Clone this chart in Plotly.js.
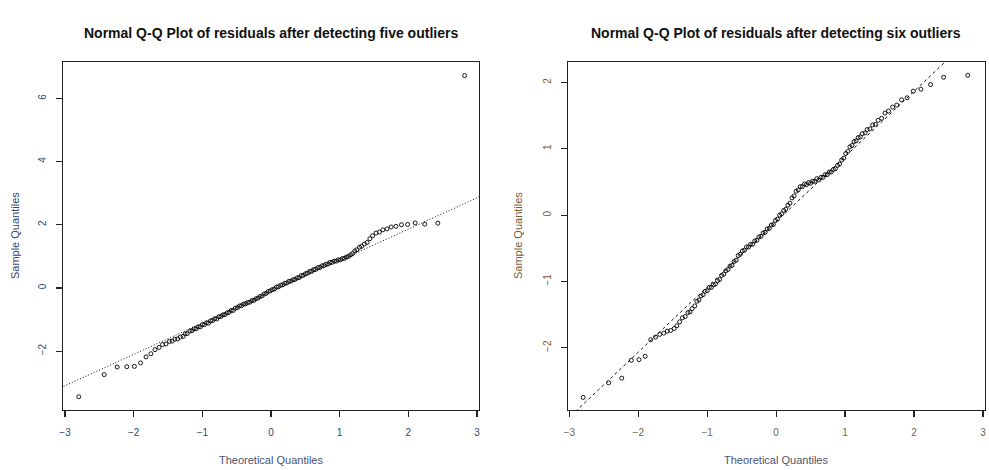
<!DOCTYPE html>
<html>
<head>
<meta charset="utf-8">
<script src="https://cdn.plot.ly/plotly-3.0.1.min.js"></script>
<style>html,body{margin:0;padding:0;background:#fff;}#chart{width:989px;height:470px;}</style>
</head>
<body>
<div id="chart"></div>
<script>
// ---- Data ----
var leftTitle = "Normal Q-Q Plot of residuals after detecting five outliers";
var rightTitle = "Normal Q-Q Plot of residuals after detecting six outliers";
var xAxisTitle = "Theoretical Quantiles";
var yAxisTitle = "Sample Quantiles";

var leftTheoretical = [-2.80,-2.43,-2.24,-2.10,-1.99,-1.90,-1.82,-1.75,-1.69,-1.63,-1.58,-1.53,-1.48,-1.44,-1.40,-1.36,-1.32,-1.28,-1.25,-1.22,-1.18,-1.15,-1.12,-1.09,-1.06,-1.03,-1.00,-0.97,-0.94,-0.91,-0.88,-0.85,-0.82,-0.79,-0.76,-0.73,-0.70,-0.67,-0.64,-0.61,-0.58,-0.55,-0.52,-0.49,-0.46,-0.43,-0.40,-0.37,-0.34,-0.31,-0.28,-0.25,-0.22,-0.19,-0.16,-0.13,-0.10,-0.07,-0.04,-0.01,0.02,0.05,0.08,0.11,0.14,0.17,0.20,0.23,0.26,0.29,0.32,0.35,0.38,0.41,0.44,0.47,0.50,0.53,0.56,0.59,0.62,0.65,0.68,0.71,0.74,0.77,0.80,0.83,0.86,0.89,0.92,0.95,0.98,1.01,1.04,1.07,1.10,1.13,1.16,1.19,1.22,1.25,1.29,1.32,1.36,1.40,1.44,1.48,1.53,1.58,1.63,1.69,1.75,1.82,1.90,1.99,2.10,2.24,2.43,2.82];
var leftSample = [-3.44,-2.74,-2.50,-2.49,-2.48,-2.37,-2.18,-2.08,-1.95,-1.88,-1.79,-1.77,-1.69,-1.68,-1.62,-1.61,-1.55,-1.53,-1.45,-1.44,-1.36,-1.35,-1.29,-1.29,-1.23,-1.23,-1.16,-1.16,-1.10,-1.11,-1.04,-1.03,-0.97,-0.98,-0.91,-0.90,-0.85,-0.84,-0.79,-0.77,-0.71,-0.71,-0.64,-0.62,-0.57,-0.56,-0.51,-0.50,-0.46,-0.45,-0.40,-0.39,-0.34,-0.32,-0.27,-0.25,-0.19,-0.17,-0.11,-0.09,-0.05,-0.03,0.03,0.04,0.09,0.10,0.15,0.16,0.21,0.22,0.26,0.27,0.32,0.33,0.39,0.40,0.45,0.47,0.52,0.53,0.58,0.59,0.64,0.65,0.70,0.71,0.75,0.76,0.81,0.81,0.85,0.85,0.89,0.89,0.93,0.94,0.98,1.00,1.05,1.09,1.17,1.21,1.29,1.32,1.39,1.44,1.56,1.65,1.74,1.77,1.84,1.87,1.93,1.95,2.00,2.01,2.06,2.02,2.05,6.72];
var leftLineX = [-3.10, 3.10];
var leftLineY = [-3.19, 2.95];

var rightTheoretical = [-2.80,-2.43,-2.24,-2.10,-1.99,-1.90,-1.82,-1.75,-1.69,-1.63,-1.58,-1.53,-1.48,-1.44,-1.40,-1.36,-1.32,-1.28,-1.25,-1.22,-1.18,-1.15,-1.12,-1.09,-1.06,-1.03,-1.00,-0.97,-0.94,-0.91,-0.88,-0.85,-0.82,-0.79,-0.76,-0.73,-0.70,-0.67,-0.64,-0.61,-0.58,-0.55,-0.52,-0.49,-0.46,-0.43,-0.40,-0.37,-0.34,-0.31,-0.28,-0.25,-0.22,-0.19,-0.16,-0.13,-0.10,-0.07,-0.04,-0.01,0.02,0.05,0.08,0.11,0.14,0.17,0.20,0.23,0.26,0.29,0.32,0.35,0.38,0.41,0.44,0.47,0.50,0.53,0.56,0.59,0.62,0.65,0.68,0.71,0.74,0.77,0.80,0.83,0.86,0.89,0.92,0.95,0.98,1.01,1.04,1.07,1.10,1.13,1.16,1.19,1.22,1.25,1.29,1.32,1.36,1.40,1.44,1.48,1.53,1.58,1.63,1.69,1.75,1.82,1.90,1.99,2.10,2.24,2.43,2.78];
var rightSample = [-2.75,-2.53,-2.46,-2.19,-2.18,-2.13,-1.88,-1.84,-1.80,-1.78,-1.75,-1.74,-1.71,-1.67,-1.61,-1.55,-1.53,-1.47,-1.46,-1.41,-1.37,-1.30,-1.28,-1.22,-1.20,-1.15,-1.14,-1.09,-1.09,-1.05,-1.04,-0.99,-0.97,-0.91,-0.89,-0.84,-0.82,-0.77,-0.76,-0.70,-0.68,-0.61,-0.59,-0.54,-0.53,-0.48,-0.48,-0.44,-0.44,-0.39,-0.38,-0.33,-0.32,-0.27,-0.26,-0.21,-0.20,-0.15,-0.14,-0.08,-0.06,0.00,0.02,0.07,0.09,0.15,0.18,0.26,0.29,0.36,0.38,0.43,0.43,0.47,0.46,0.49,0.48,0.51,0.51,0.55,0.53,0.57,0.57,0.61,0.61,0.65,0.65,0.69,0.70,0.75,0.77,0.83,0.86,0.93,0.96,1.03,1.05,1.11,1.12,1.17,1.18,1.23,1.24,1.29,1.30,1.36,1.37,1.43,1.46,1.54,1.57,1.63,1.66,1.74,1.77,1.87,1.90,1.97,2.08,2.11];
var rightLineX = [-3.10, 3.10];
var rightLineY = [-3.15, 2.95];

var xTicks = [-3, -2, -1, 0, 1, 2, 3];
var leftYTicks = [-2, 0, 2, 4, 6];
var rightYTicks = [-2, -1, 0, 1, 2];

// ---- Styling ----
var FONT = "Liberation Sans, Arial, Helvetica, sans-serif";
var leftTextColor = "#34466f";
var rightTextColor = "#7a5a36";

var markerStyle = {symbol: "circle-open", size: 4, color: "#000", line: {width: 0.9, color: "#000"}};

var traces = [
  {x: leftLineX, y: leftLineY, xaxis: "x", yaxis: "y", mode: "lines",
   line: {color: "#111", width: 1, dash: "1px,2px"}, hoverinfo: "skip"},
  {x: leftTheoretical, y: leftSample, xaxis: "x", yaxis: "y", mode: "markers", marker: markerStyle},
  {x: rightLineX, y: rightLineY, xaxis: "x2", yaxis: "y2", mode: "lines",
   line: {color: "#111", width: 1, dash: "3px,3px"}, hoverinfo: "skip"},
  {x: rightTheoretical, y: rightSample, xaxis: "x2", yaxis: "y2", mode: "markers", marker: markerStyle}
];

function axisBase(extra) {
  var a = {
    showgrid: false, zeroline: false, showline: true, mirror: true,
    linecolor: "#222", linewidth: 1.3,
    ticks: "outside", ticklen: 6, tickwidth: 1.2, tickcolor: "#222",
    tickfont: {family: FONT, size: 10}
  };
  for (var k in extra) a[k] = extra[k];
  return a;
}

var leftDomain = [0, 0.4512];
var rightDomain = [0.5477, 1];

var layout = {
  width: 989, height: 470,
  margin: {l: 63, r: 4, t: 62, b: 60},
  paper_bgcolor: "#fff", plot_bgcolor: "#fff",
  showlegend: false,
  font: {family: FONT, color: "#222"},
  xaxis: axisBase({domain: leftDomain, range: [-3.03, 3.03], tickvals: xTicks, anchor: "y",
    ticklabelstandoff: 7, tickfont: {family: FONT, size: 10, color: leftTextColor}}),
  yaxis: axisBase({domain: [0, 1], range: [-3.86, 7.15], tickvals: leftYTicks, anchor: "x",
    tickangle: -90, ticklabelstandoff: 6, tickfont: {family: FONT, size: 10, color: leftTextColor}}),
  xaxis2: axisBase({domain: rightDomain, range: [-3.02, 3.03], tickvals: xTicks, anchor: "y2",
    ticklabelstandoff: 7, tickfont: {family: FONT, size: 10, color: "#6b6650"}}),
  yaxis2: axisBase({domain: [0, 1], range: [-2.94, 2.31], tickvals: rightYTicks, anchor: "x2",
    tickangle: -90, ticklabelstandoff: 6, tickfont: {family: FONT, size: 10, color: rightTextColor}}),
  annotations: [
    {text: "<b>" + leftTitle + "</b>", xref: "paper", yref: "paper", x: (leftDomain[0] + leftDomain[1]) / 2, y: 1.083,
     xanchor: "center", yanchor: "middle", showarrow: false, font: {family: FONT, size: 14, color: "#111"}},
    {text: "<b>" + rightTitle + "</b>", xref: "paper", yref: "paper", x: (rightDomain[0] + rightDomain[1]) / 2, y: 1.083,
     xanchor: "center", yanchor: "middle", showarrow: false, font: {family: FONT, size: 14, color: "#111"}},
    {text: xAxisTitle, xref: "paper", yref: "paper", x: (leftDomain[0] + leftDomain[1]) / 2, y: -0.144,
     xanchor: "center", yanchor: "middle", showarrow: false, font: {family: FONT, size: 11, color: "#4a5470"}},
    {text: xAxisTitle, xref: "paper", yref: "paper", x: (rightDomain[0] + rightDomain[1]) / 2, y: -0.144,
     xanchor: "center", yanchor: "middle", showarrow: false, font: {family: FONT, size: 11, color: "#4a5470"}},
    {text: yAxisTitle, xref: "paper", yref: "paper", x: -0.052, y: 0.5, textangle: -90,
     xanchor: "center", yanchor: "middle", showarrow: false, font: {family: FONT, size: 11, color: leftTextColor}},
    {text: yAxisTitle, xref: "paper", yref: "paper", x: 0.4935, y: 0.5, textangle: -90,
     xanchor: "center", yanchor: "middle", showarrow: false, font: {family: FONT, size: 11, color: rightTextColor}}
  ]
};

Plotly.newPlot("chart", traces, layout, {displayModeBar: false, staticPlot: true});
</script>
</body>
</html>
